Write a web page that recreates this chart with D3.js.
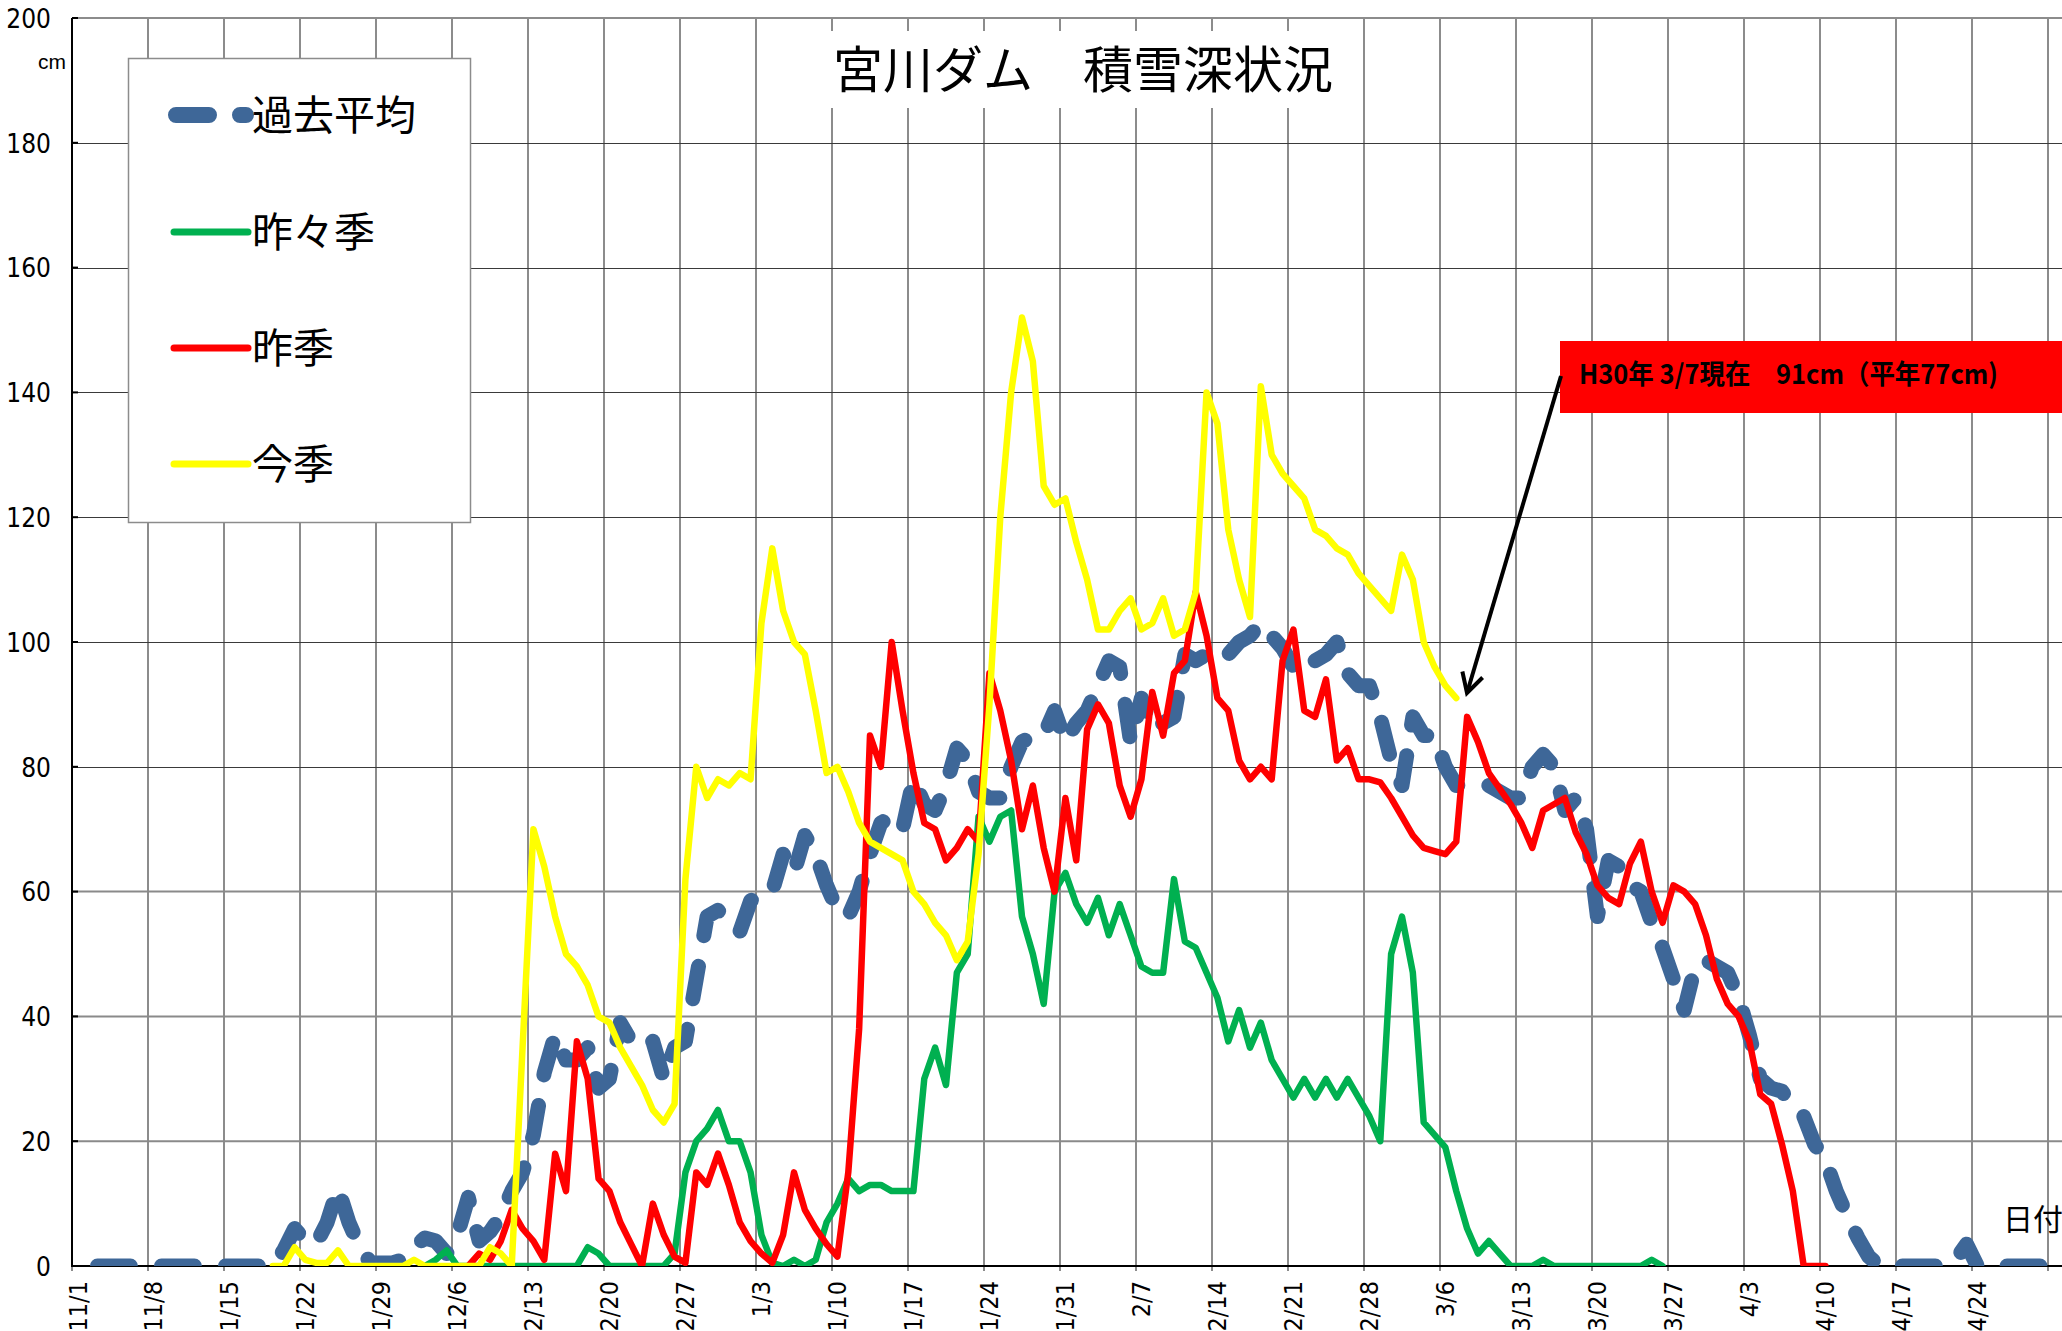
<!DOCTYPE html>
<html>
<head>
<meta charset="utf-8">
<script src="https://cdn.jsdelivr.net/npm/d3@7/dist/d3.min.js"></script>
<style>
  html, body { margin: 0; padding: 0; background: #fff; }
  svg { display: block; }
</style>
</head>
<body>
<svg id="chart" width="2062" height="1331"></svg>
<script>
// Snow depth at Miyagawa Dam, daily from 11/1 (index 0) onward, in cm.
const tickLabels = ["11/1", "11/8", "1/15", "1/22", "1/29", "12/6", "2/13", "2/20", "2/27",
  "1/3", "1/10", "1/17", "1/24", "1/31", "2/7", "2/14", "2/21", "2/28", "3/6", "3/13",
  "3/20", "3/27", "4/3", "4/10", "4/17", "4/24"];

const yTickValues = [0, 20, 40, 60, 80, 100, 120, 140, 160, 180, 200];

const seriesNames = ["過去平均", "昨々季", "昨季", "今季"];

// 過去平均 (past average), starts at 11/1
const pastAverage = [
  0, 0, 0, 0, 0, 0, 0, 0, 0, 0, 0, 0, 0, 0, 0, 0, 0, 0, 0, 2.5,
  6, 4, 3.6, 7, 12.5, 7, 3, 0.5, 0.5, 0.5, 1, 3, 4.5, 4, 2, 5, 11, 4, 5.5, 8,
  12, 15, 21, 31, 37, 33, 33, 35, 28.5, 30, 39, 36, 35, 36, 30, 35, 36, 46, 56, 57,
  55, 53.5, 58.5, 60, 60, 66, 63, 69, 66, 61, 57, 56, 60, 66, 71, 72, 70, 78, 74, 73,
  77, 83, 81, 76, 75, 75, 80, 84, 85, 85, 89, 84, 87, 89, 93, 97, 96, 84, 91, 86,
  87, 88, 98, 97, 98, 99, 98, 100, 101, 103, 101, 99, 96, 95, 97, 98, 100, 95, 93, 93,
  88, 81, 77, 88, 85, 85, 80, 77, 77, 77, 77, 76, 75, 75, 80, 82, 80, 73, 75, 70,
  56, 65, 64, 61, 60, 55, 51, 46, 41, 48, 49, 48, 47, 43, 37, 30, 28.5, 28, 25.5, 24,
  19.5, 17, 12, 8, 4.5, 1.5, 0, 0, 0, 0, 0, 0, 0, 1, 3.5, 0, 0, 0, 0, 0,
  0, 0, 0, 0
];

// 昨々季 (two seasons ago), first value at index 32
const seasonBeforeLastStart = 32;
const seasonBeforeLast = [
  0, 1, 2.5, 0, 0, 0, 0, 0, 0, 0, 0, 0, 0, 0, 0, 3, 2, 0, 0, 0,
  0, 0, 0, 2, 15, 20, 22, 25, 20, 20, 15, 5, 0.5, 0, 1, 0, 1, 7, 10, 14,
  12, 13, 13, 12, 12, 12, 30, 35, 29, 47, 50, 72, 68, 72, 73, 56, 50, 42, 60, 63,
  58, 55, 59, 53, 58, 53, 48, 47, 47, 62, 52, 51, 47, 43, 36, 41, 35, 39, 33, 30,
  27, 30, 27, 30, 27, 30, 27, 24, 20, 50, 56, 47, 23, 21, 19, 12, 6, 2, 4, 2,
  0, 0, 0, 1, 0, 0, 0, 0, 0, 0, 0, 0, 0, 1, 0
];

// 昨季 (last season), first value at index 36
const lastSeasonStart = 36;
const lastSeason = [
  0, 2, 1, 4, 9, 6, 4, 1, 18, 12, 36, 30, 14, 12, 7, 3.5, 0, 10, 5, 1.5,
  0.5, 15, 13, 18, 13, 7, 4, 2, 0.5, 5, 15, 9, 6, 3.5, 1.5, 15, 38, 85, 80, 100,
  89, 79, 71, 70, 65, 67, 70, 68, 95, 89, 81, 70, 77, 67, 60, 75, 65, 86, 90, 87,
  77, 72, 78, 92, 85, 95, 97, 108, 101, 91, 89, 81, 78, 80, 78, 97, 102, 89, 88, 94,
  81, 83, 78, 78, 77.5, 75, 72, 69, 67, 66.5, 66, 68, 88, 84, 79, 76.5, 74, 71, 67, 73,
  74, 75, 69.5, 66, 61, 59, 58, 64.5, 68, 60, 55, 61, 60, 58, 53, 46, 42, 40, 36, 27.5,
  26, 19.5, 12, 0, 0, 0
];

// 今季 (this season), first value at index 18, last value is 3/7
const thisSeasonStart = 18;
const thisSeason = [
  0, 0, 3, 1, 0.5, 0.5, 2.5, 0, 0, 0, 0, 0, 0, 1, 0, 0, 0, 0, 0, 0,
  3, 2, 0, 35, 70, 64, 56, 50, 48, 45, 40, 39, 35, 32, 29, 25, 23, 26, 62, 80,
  75, 78, 77, 79, 78, 103, 115, 105, 100, 98, 89, 79, 80, 76, 71, 68, 67, 66, 65, 60,
  58, 55, 53, 49, 52, 66, 90, 120, 140, 152, 145, 125, 122, 123, 116, 110, 102, 102, 105, 107,
  102, 103, 107, 101, 102, 108, 140, 135, 118, 110, 104, 141, 130, 127, 125, 123, 118, 117, 115, 114,
  111, 109, 107, 105, 114, 110, 100, 96, 93, 91
];

const W = 2062, H = 1331;
const plotLeft = 72, plotTop = 18, plotBottom = 1266;
const dayWidth = 10.857;

const svg = d3.select("#chart");
svg.append("rect").attr("width", W).attr("height", H).attr("fill", "#fff");

const x = d3.scaleLinear().domain([0, 182]).range([plotLeft, plotLeft + 182 * dayWidth]);
const y = d3.scaleLinear().domain([0, 200]).range([plotBottom, plotTop]);

const gridDays = d3.range(0, 183, 7);
const labelDays = gridDays.slice(0, tickLabels.length);

const numFont = "'Liberation Sans Narrow', 'Arial Narrow', 'DejaVu Sans Condensed', 'Liberation Sans', sans-serif";
const cjkFont = "'Noto Sans CJK JP', 'Noto Sans CJK SC', sans-serif";

// clip region for the plot interior
svg.append("defs").append("clipPath").attr("id", "plotClip")
  .append("rect").attr("x", plotLeft).attr("y", plotTop)
  .attr("width", W - plotLeft + 20).attr("height", plotBottom - plotTop);

// vertical gridlines (weekly) with small outside ticks
const grid = svg.append("g");
grid.selectAll("line.v").data(gridDays).join("line")
  .attr("x1", d => Math.round(x(d))).attr("x2", d => Math.round(x(d)))
  .attr("y1", plotTop).attr("y2", plotBottom + 5)
  .attr("stroke", "#8c8c8c").attr("stroke-width", 2);

function v2px(v) {
  const p = y(v);
  return v >= 80 && v < 200 ? Math.round(p) + 0.5 : p;
}

// horizontal gridlines
grid.selectAll("line.h").data(yTickValues.filter(v => v > 0)).join("line")
  .attr("x1", plotLeft).attr("x2", W)
  .attr("y1", d => v2px(d)).attr("y2", d => v2px(d))
  .attr("stroke", d => d === 200 ? "#8c8c8c" : (d >= 80 ? "#3a3a3a" : "#8a8a8a"))
  .attr("stroke-width", d => d === 200 ? 2 : (d >= 80 ? 1 : 2));

// y axis labels
const yAxis = d3.axisLeft(y).tickValues(yTickValues).tickSize(0).tickPadding(0);
const yg = svg.append("g").attr("transform", `translate(${plotLeft - 21},0)`).call(yAxis);
yg.select(".domain").remove();
yg.selectAll("text").attr("font-family", numFont).attr("font-size", 26).attr("fill", "#000")
  .attr("dy", "0.36em");

// x axis labels, rotated
const xAxis = d3.axisBottom(x).tickValues(labelDays).tickFormat((d, i) => tickLabels[i]).tickSize(0);
const xg = svg.append("g").attr("transform", `translate(0,${plotBottom})`).call(xAxis);
xg.select(".domain").remove();
xg.selectAll("text")
  .attr("font-family", numFont).attr("font-size", 25).attr("fill", "#000")
  .attr("text-anchor", "end")
  .attr("transform", "translate(5,15) rotate(-90)")
  .attr("x", 0).attr("y", 0).attr("dy", "0.36em");

// axis lines
svg.append("line").attr("x1", plotLeft).attr("x2", plotLeft).attr("y1", plotTop).attr("y2", plotBottom + 1)
  .attr("stroke", "#000").attr("stroke-width", 2);
svg.append("line").attr("x1", plotLeft).attr("x2", W).attr("y1", plotBottom).attr("y2", plotBottom)
  .attr("stroke", "#000").attr("stroke-width", 2);
svg.selectAll("line.ytick").data(yTickValues).join("line")
  .attr("x1", plotLeft).attr("x2", plotLeft + 6)
  .attr("y1", d => y(d)).attr("y2", d => y(d))
  .attr("stroke", "#000").attr("stroke-width", 2);

// series
const toPoints = (arr, start) => arr.map((v, k) => ({ i: start + k, v }));
const line = d3.line().x(d => x(d.i + 0.5)).y(d => y(d.v));

const series = [
  { name: seriesNames[0], pts: toPoints(pastAverage, 0), color: "#3e6798", width: 15, dash: "33,31", offset: 44 },
  { name: seriesNames[1], pts: toPoints(seasonBeforeLast, seasonBeforeLastStart), color: "#00b050", width: 6.5 },
  { name: seriesNames[2], pts: toPoints(lastSeason, lastSeasonStart), color: "#ff0000", width: 6.5 },
  { name: seriesNames[3], pts: toPoints(thisSeason, thisSeasonStart), color: "#ffff00", width: 6.5 }
];

const lines = svg.append("g").attr("clip-path", "url(#plotClip)");
series.forEach(s => {
  lines.append("path").datum(s.pts)
    .attr("d", line)
    .attr("fill", "none")
    .attr("stroke", s.color)
    .attr("stroke-width", s.width)
    .attr("stroke-linejoin", "round")
    .attr("stroke-linecap", "round")
    .attr("stroke-dasharray", s.dash || null)
    .attr("stroke-dashoffset", s.offset || 0);
});

// legend
const lg = svg.append("g");
lg.append("rect").attr("x", 128.5).attr("y", 58.5).attr("width", 342).attr("height", 464)
  .attr("fill", "#fff").attr("stroke", "#8c8c8c").attr("stroke-width", 1.5);
const legendRows = [115, 232, 348, 464];
series.forEach((s, k) => {
  const cy = legendRows[k];
  lg.append("line")
    .attr("x1", s.dash ? 176 : 174).attr("x2", s.dash ? 246 : 248)
    .attr("y1", cy).attr("y2", cy)
    .attr("stroke", s.color).attr("stroke-width", s.dash ? 16 : 7)
    .attr("stroke-linecap", "round")
    .attr("stroke-dasharray", s.dash || null);
  lg.append("text").attr("x", 252).attr("y", cy).attr("dy", "0.36em")
    .attr("font-family", cjkFont).attr("font-size", 41).attr("fill", "#000")
    .text(s.name);
});

// title
svg.append("rect").attr("x", 808).attr("y", 31).attr("width", 540).attr("height", 77).attr("fill", "#fff");
svg.append("text").attr("x", 1083).attr("y", 70).attr("dy", "0.36em")
  .attr("text-anchor", "middle").attr("font-family", cjkFont).attr("font-size", 50).attr("fill", "#000")
  .text("宮川ダム　積雪深状況");

// unit labels
svg.append("text").attr("x", 38).attr("y", 69).attr("font-family", "'Liberation Sans', sans-serif")
  .attr("font-size", 21).attr("fill", "#000").text("cm");
svg.append("text").attr("x", 2003).attr("y", 1230).attr("font-family", cjkFont)
  .attr("font-size", 30).attr("fill", "#000").text("日付");

// current-value callout
const lastIdx = thisSeasonStart + thisSeason.length - 1;
const callout = svg.append("g");
callout.append("rect").attr("x", 1560).attr("y", 341).attr("width", 520).attr("height", 72).attr("fill", "#ff0000");
callout.append("text").attr("x", 1579).attr("y", 384)
  .attr("font-family", cjkFont).attr("font-weight", 700).attr("font-size", 27).attr("fill", "#000")
  .attr("textLength", 419).attr("lengthAdjust", "spacingAndGlyphs")
  .text(`H30年 3/7現在　${thisSeason[thisSeason.length - 1]}cm（平年${pastAverage[lastIdx]}cm)`);

const tip = [1467, 693], tail = [1561, 376];
callout.append("line").attr("x1", tail[0]).attr("y1", tail[1]).attr("x2", tip[0]).attr("y2", tip[1])
  .attr("stroke", "#000").attr("stroke-width", 4);
const ang = Math.atan2(tail[1] - tip[1], tail[0] - tip[0]);
const headLen = 22, spread = 0.5;
const hp = [ang - spread, ang + spread].map(a => [tip[0] + headLen * Math.cos(a), tip[1] + headLen * Math.sin(a)]);
callout.append("path")
  .attr("d", `M${hp[0][0]},${hp[0][1]}L${tip[0]},${tip[1]}L${hp[1][0]},${hp[1][1]}`)
  .attr("fill", "none").attr("stroke", "#000").attr("stroke-width", 4).attr("stroke-linejoin", "miter");
</script>
</body>
</html>
